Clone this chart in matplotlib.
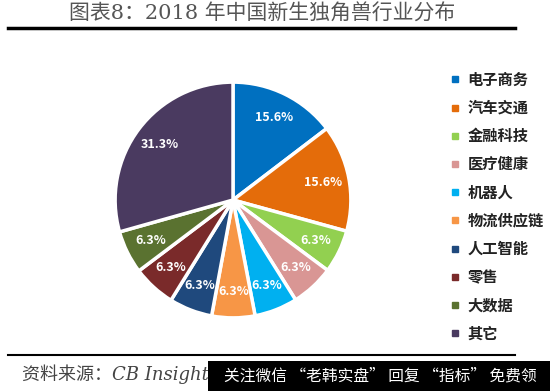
import matplotlib.pyplot as plt
from matplotlib.patches import Rectangle
from matplotlib.lines import Line2D

plt.rcParams['font.family'] = ['Noto Sans CJK SC', 'DejaVu Sans']

# datos del grafico
categorias = ['电子商务', '汽车交通', '金融科技', '医疗健康', '机器人',
              '物流供应链', '人工智能', '零售', '大数据', '其它']
porcentajes = [15.6, 15.6, 6.3, 6.3, 6.3, 6.3, 6.3, 6.3, 6.3, 31.3]
colores = ['#0070C0', '#E46C0A', '#92D050', '#D99694', '#00B0F0',
           '#F79646', '#1F497D', '#7A2A2A', '#5A7230', '#4A3A60']

titulo = '图表8：2018 年中国新生独角兽行业分布'
fuente = '资料来源：CB Insights'
marca = '关注微信 “老韩实盘” 回复 “指标” 免费领'

W, H = 550, 391
fig = plt.figure(figsize=(W / 100, H / 100), dpi=100)

# pastel
r = 118
cx, cy = 233, 200
ax = fig.add_axes([(cx - r - 4) / W, 1 - (cy + r + 4) / H, (2 * r + 8) / W, (2 * r + 8) / H])
wedges, _, autotexts = ax.pie(
    porcentajes, colors=colores, startangle=90, counterclock=False,
    autopct=lambda p: '', pctdistance=0.78,
    wedgeprops=dict(edgecolor='white', linewidth=2.5))
for t, v in zip(autotexts, porcentajes):
    t.set_text(f'{v:.1f}%')
    t.set_color('white')
    t.set_fontsize(9)
    t.set_fontweight('bold')
ax.set_xlim(-1.035, 1.035)
ax.set_ylim(-1.035, 1.035)
ax.set_aspect('equal')

# leyenda
handles = [Line2D([], [], marker='s', linestyle='', markersize=5,
                  markerfacecolor=c, markeredgecolor=c) for c in colores]
leg = fig.legend(handles, categorias, loc='upper left',
                 bbox_to_anchor=(443 / W, 1 - 64 / H), frameon=False,
                 fontsize=11, labelspacing=0.8, handlelength=0.6,
                 handletextpad=0.5, borderpad=0)
for t in leg.get_texts():
    t.set_fontweight('bold')
    t.set_color('#222222')

# titulo y lineas
fig.text(262 / W, 1 - 14 / H, titulo, ha='center', va='center',
         fontsize=15, color='#555555',
         family=['DejaVu Serif', 'Noto Sans CJK SC'])
fig.add_artist(Line2D([8 / W, 515 / W], [1 - 28 / H, 1 - 28 / H],
                      color='black', linewidth=2.5))
fig.add_artist(Line2D([8 / W, 515 / W], [1 - 355 / H, 1 - 355 / H],
                      color='black', linewidth=1.5))

# fuente
fig.text(22 / W, 1 - 374 / H, fuente, ha='left', va='center',
         fontsize=13, color='#444444', style='italic',
         family=['DejaVu Serif', 'Noto Sans CJK SC'])

# marca de agua
fig.add_artist(Rectangle((208 / W, 0), 1 - 208 / W, (H - 361) / H,
                         transform=fig.transFigure, facecolor='black',
                         edgecolor='none', zorder=5))
fig.text(380 / W, 1 - 376 / H, marca, ha='center', va='center',
         fontsize=11.3, color='white', zorder=6)

fig.savefig('out.png', dpi=100)
